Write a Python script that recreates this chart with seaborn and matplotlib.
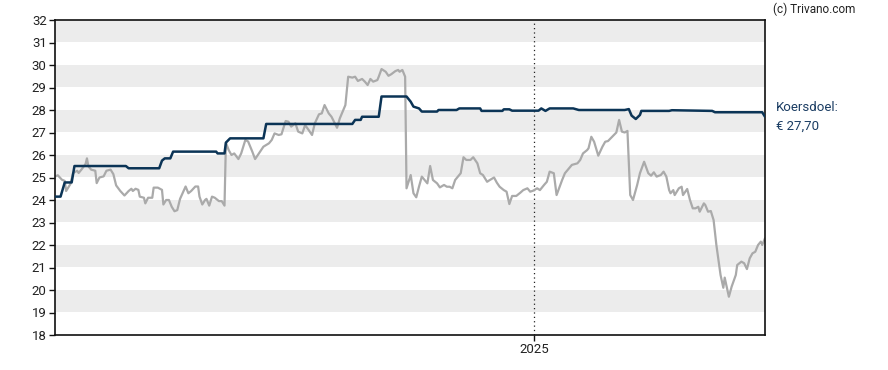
import numpy as np
import pandas as pd
import matplotlib
matplotlib.use("Agg")
import matplotlib.pyplot as plt
import seaborn as sns

# ---------------- data ----------------
start_date = "2024-01-22"
end_date = "2025-06-16"
year_tick = "2025-01-01"
year_label = "2025"

# share price (grey): day offset from start, value
price_days = [0, 2, 5, 7, 8, 11, 13, 16, 17, 19, 22, 23, 24, 26, 29, 30, 32, 35, 37, 40,
              42, 44, 47, 50, 53, 55, 56, 58, 60, 61, 64, 65, 67, 70, 71, 74, 77, 78, 80, 82,
              84, 86, 88, 90, 94, 96, 98, 101, 103, 104, 106, 108, 109, 111, 113, 115, 118, 120, 122, 123,
              125, 127, 129, 132, 134, 137, 139, 142, 144, 146, 150, 154, 156, 158, 161, 163, 166, 168, 170, 173,
              175, 178, 180, 182, 185, 187, 190, 192, 194, 197, 199, 202, 203, 205, 209, 211, 214, 216, 218, 221,
              223, 225, 227, 229, 232, 233, 235, 238, 240, 242, 245, 247, 248, 250, 252, 253, 256, 258, 260, 262,
              264, 266, 268, 270, 272, 275, 277, 280, 282, 284, 286, 288, 292, 294, 296, 299, 301, 304, 306, 308,
              311, 313, 316, 318, 320, 323, 325, 327, 329, 332, 335, 337, 340, 342, 344, 347, 349, 352, 354, 356,
              359, 361, 365, 367, 370, 372, 376, 378, 380, 383, 384, 386, 388, 391, 394, 396, 398, 401, 404, 406,
              408, 410, 412, 414, 416, 419, 421, 424, 427, 429, 431, 433, 436, 438, 440, 442, 443, 445, 446, 449,
              451, 452, 455, 457, 459, 461, 463, 464, 467, 468, 470, 472, 474, 476, 479, 481, 482, 485, 487, 490,
              491, 494, 496, 498, 500, 502, 504, 506, 508, 509, 511]
price_vals = [25.04, 25.10, 24.90, 24.85, 24.40, 24.70, 25.20, 25.30, 25.20, 25.35, 25.60, 25.85, 25.50, 25.35, 25.30, 24.75, 25.00, 25.05, 25.30, 25.35,
              25.15, 24.65, 24.40, 24.20, 24.40, 24.50, 24.40, 24.50, 24.45, 24.15, 24.10, 23.85, 24.10, 24.10, 24.55, 24.55, 24.45, 23.80, 24.00, 24.00,
              23.70, 23.50, 23.55, 24.05, 24.60, 24.30, 24.40, 24.60, 24.60, 24.15, 23.80, 24.00, 24.05, 23.75, 24.15, 24.10, 23.95, 23.95, 23.75, 26.55,
              26.22, 26.00, 26.07, 25.82, 26.07, 26.67, 26.60, 26.15, 25.82, 26.00, 26.37, 26.52, 26.67, 26.96, 26.89, 26.92, 27.51, 27.48, 27.26, 27.41,
              27.04, 26.96, 27.33, 27.16, 26.89, 27.41, 27.81, 27.85, 28.22, 27.85, 27.70, 27.33, 27.21, 27.63, 28.22, 29.48, 29.44, 29.48, 29.29, 29.38,
              29.26, 29.11, 29.38, 29.26, 29.33, 29.48, 29.82, 29.70, 29.52, 29.59, 29.73, 29.78, 29.70, 29.78, 29.48, 24.52, 25.11, 24.30, 24.12, 24.60,
              25.04, 24.89, 24.74, 25.51, 24.89, 24.74, 24.56, 24.67, 24.59, 24.59, 24.52, 24.89, 25.19, 25.90, 25.78, 25.78, 25.90, 25.63, 25.19, 25.11,
              24.81, 24.89, 25.00, 24.77, 24.59, 24.44, 24.37, 23.82, 24.18, 24.18, 24.33, 24.44, 24.52, 24.37, 24.41, 24.52, 24.44, 24.67, 24.81, 25.26,
              25.19, 24.22, 24.89, 25.19, 25.41, 25.56, 25.63, 25.78, 26.07, 26.22, 26.30, 26.81, 26.59, 25.97, 26.37, 26.59, 26.62, 26.81, 27.00, 27.56,
              27.04, 27.00, 27.07, 24.22, 24.00, 24.67, 25.19, 25.70, 25.19, 25.08, 25.23, 25.04, 25.11, 25.26, 25.04, 24.44, 24.30, 24.44, 24.22, 24.52,
              24.59, 24.22, 24.49, 24.00, 23.63, 23.63, 23.70, 23.48, 23.85, 23.78, 23.48, 23.51, 23.11, 22.00, 20.67, 20.10, 20.55, 19.70, 20.15, 20.67,
              21.11, 21.26, 21.19, 20.93, 21.41, 21.63, 21.70, 22.00, 22.15, 22.00, 22.30]

# price target (navy): day offset from start, value
target_days = [0, 4, 7, 12, 14, 51, 53, 75, 77, 79, 83, 85, 116, 117, 122, 123, 126, 150, 152, 214,
               216, 220, 221, 233, 235, 253, 256, 258, 262, 264, 275, 276, 289, 291, 306, 307, 322, 323, 327, 329,
               348, 350, 353, 356, 373, 377, 410, 413, 415, 418, 421, 422, 442, 444, 473, 475, 509, 511]
target_vals = [24.15, 24.15, 24.78, 24.78, 25.51, 25.51, 25.41, 25.41, 25.75, 25.85, 25.85, 26.15, 26.15, 26.07, 26.07, 26.55, 26.74, 26.74, 27.38, 27.38,
               27.56, 27.56, 27.70, 27.70, 28.60, 28.60, 28.37, 28.15, 28.07, 27.93, 27.93, 28.00, 28.00, 28.07, 28.07, 27.96, 27.96, 28.03, 28.03, 27.97,
               27.97, 28.07, 27.96, 28.07, 28.07, 28.00, 28.00, 28.04, 27.75, 27.60, 27.78, 27.96, 27.96, 27.99, 27.96, 27.90, 27.90, 27.70]

y_ticks = list(range(18, 33))
target_label = "Koersdoel:"
target_value_label = "€ 27,70"
credit = "(c) Trivano.com"

# ---------------- build frames ----------------
t0 = pd.Timestamp(start_date)
price_df = pd.DataFrame({"date": t0 + pd.to_timedelta(price_days, unit="D"), "value": price_vals})
target_df = pd.DataFrame({"date": t0 + pd.to_timedelta(target_days, unit="D"), "value": target_vals})

sns.set_theme(style="white")
plt.rcParams["font.family"] = ["Roboto", "DejaVu Sans"]

fig = plt.figure(figsize=(8.88, 3.70), dpi=100)
ax = fig.add_axes([55 / 888, 1 - 335 / 370, 710 / 888, 315 / 370])

# alternating bands
for lo in y_ticks[:-1]:
    if lo % 2 == 1:
        ax.axhspan(lo, lo + 1, color="#ececec", lw=0, zorder=0)

sns.lineplot(data=price_df, x="date", y="value", ax=ax, color="#aaaaaa", lw=1.6, zorder=2)
sns.lineplot(data=target_df, x="date", y="value", ax=ax, color="#0b3456", lw=1.8, zorder=3)

ax.axvline(pd.Timestamp(year_tick), color="#222222", lw=0.9, ls=(0, (1, 2.5)), zorder=1)

ax.set_xlim(pd.Timestamp(start_date), pd.Timestamp(end_date))
ax.set_ylim(y_ticks[0], y_ticks[-1])
ax.set_yticks(y_ticks)
ax.set_yticklabels([str(v) for v in y_ticks])
ax.set_xticks([pd.Timestamp(year_tick)])
ax.set_xticklabels([year_label])
ax.set_xlabel("")
ax.set_ylabel("")
ax.tick_params(axis="both", which="both", length=4, width=1, color="#111111",
               labelsize=9.5, labelcolor="#222222", pad=2, left=True, bottom=True)
for s in ax.spines.values():
    s.set_color("#111111")
    s.set_linewidth(1.2)
ax.grid(False)

fig.text(773 / 888, 1 - 9 / 370, credit, fontsize=8.5, color="#222222", va="center", ha="left")
ax.annotate(target_label, xy=(1, target_vals[-1]), xycoords=("axes fraction", "data"),
            xytext=(8, 7), textcoords="offset points", fontsize=9.5, color="#1b3d63", va="center", ha="left")
ax.annotate(target_value_label, xy=(1, target_vals[-1]), xycoords=("axes fraction", "data"),
            xytext=(8, -7), textcoords="offset points", fontsize=9.5, color="#1b3d63", va="center", ha="left")

fig.savefig("out.png", dpi=100, facecolor="white")
